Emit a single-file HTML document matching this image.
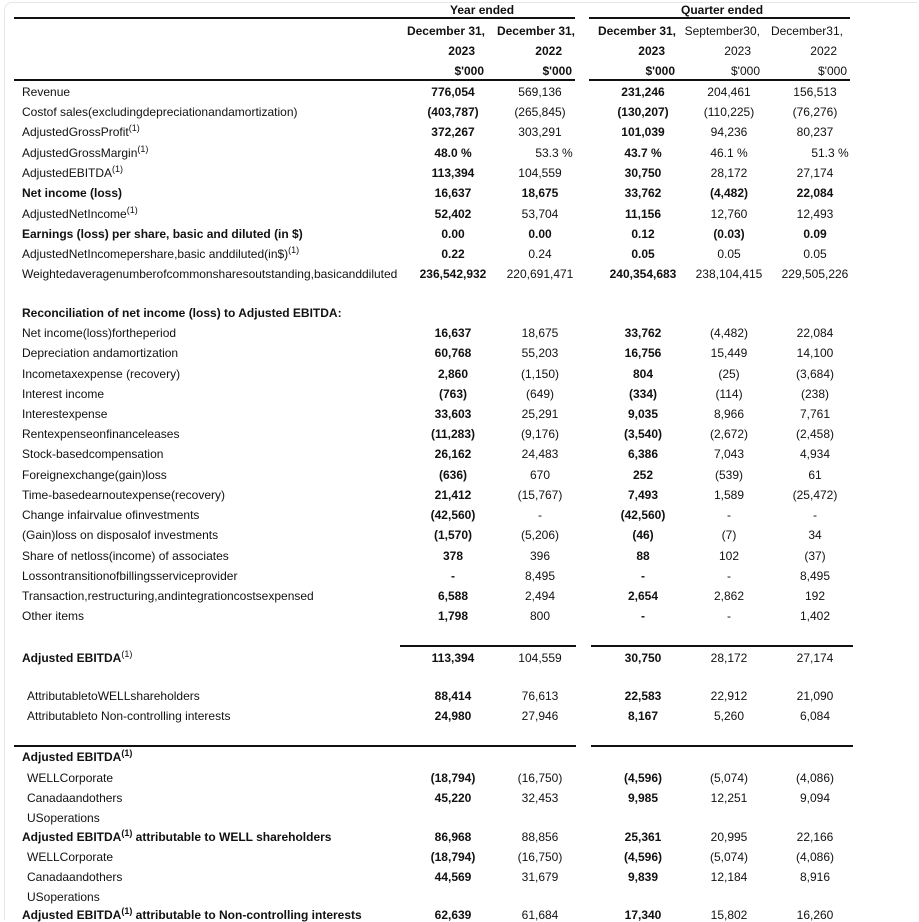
<!DOCTYPE html>
<html style="overflow:hidden;width:919px;height:922px"><head><meta charset="utf-8"><style>
body{margin:0;background:#fff;width:919px;height:922px;overflow:hidden;position:relative;font-family:"Liberation Sans",Arial,sans-serif;font-size:12px;color:#111}
.card{position:absolute;left:4px;top:2px;width:912px;height:917px;border-top:1px solid #e6e6e6;border-left:1px solid #e6e6e6;border-top-left-radius:8px}
.r{position:absolute;left:0;width:919px;height:16px;line-height:16px}
.r span{position:absolute;top:0;white-space:nowrap}
.l{left:22px}.li{left:27px}
.c1,.c2,.c3,.c4,.c5{width:100px;text-align:center}
.c1{left:403px}.c2{left:490px}.c3{left:593px}.c4{left:679px}.c5{left:765px}
.b{font-weight:bold}
sup{font-size:9px;line-height:0;vertical-align:5px}
.h{position:absolute;white-space:nowrap;line-height:16px;height:16px}
.ln{position:absolute;height:2px;background:#111}
</style></head><body>
<div class="card"></div>
<div class="h b" style="left:450px;top:2px">Year ended</div>
<div class="h b" style="left:681px;top:2px">Quarter ended</div>
<div class="ln" style="left:14px;width:561px;top:17px"></div>
<div class="ln" style="left:589px;width:261px;top:17px"></div>
<div class="h b" style="right:434px;top:23px">December 31,</div>
<div class="h b" style="right:344px;top:23px">December 31,</div>
<div class="h b" style="right:243px;top:23px">December 31,</div>
<div class="h" style="right:159px;top:23px">September30,</div>
<div class="h" style="right:76px;top:23px">December31,</div>
<div class="h b" style="right:444px;top:43px">2023</div>
<div class="h b" style="right:357px;top:43px">2022</div>
<div class="h b" style="right:254px;top:43px">2023</div>
<div class="h" style="right:168px;top:43px">2023</div>
<div class="h" style="right:82px;top:43px">2022</div>
<div class="h b" style="right:435px;top:63px">$'000</div>
<div class="h b" style="right:347px;top:63px">$'000</div>
<div class="h b" style="right:244px;top:63px">$'000</div>
<div class="h" style="right:159px;top:63px">$'000</div>
<div class="h" style="right:72px;top:63px">$'000</div>
<div class="ln" style="left:14px;width:561px;top:79px"></div>
<div class="ln" style="left:589px;width:261px;top:79px"></div>

<div class="r" style="top:84px"><span class="l">Revenue</span><span class="c1 b">776,054</span><span class="c2">569,136</span><span class="c3 b">231,246</span><span class="c4">204,461</span><span class="c5">156,513</span></div>
<div class="r" style="top:104px"><span class="l">Costof sales(excludingdepreciationandamortization)</span><span class="c1 b">(403,787)</span><span class="c2">(265,845)</span><span class="c3 b">(130,207)</span><span class="c4">(110,225)</span><span class="c5">(76,276)</span></div>
<div class="r" style="top:124px"><span class="l">AdjustedGrossProfit<sup>(1)</sup></span><span class="c1 b">372,267</span><span class="c2">303,291</span><span class="c3 b">101,039</span><span class="c4">94,236</span><span class="c5">80,237</span></div>
<div class="r" style="top:145px"><span class="l">AdjustedGrossMargin<sup>(1)</sup></span><span class="c1 b">48.0 %</span><span class="c2" style="left:504px">53.3 %</span><span class="c3 b">43.7 %</span><span class="c4">46.1 %</span><span class="c5" style="left:780px">51.3 %</span></div>
<div class="r" style="top:165px"><span class="l">AdjustedEBITDA<sup>(1)</sup></span><span class="c1 b">113,394</span><span class="c2">104,559</span><span class="c3 b">30,750</span><span class="c4">28,172</span><span class="c5">27,174</span></div>
<div class="r b" style="top:185px"><span class="l">Net income (loss)</span><span class="c1">16,637</span><span class="c2">18,675</span><span class="c3">33,762</span><span class="c4">(4,482)</span><span class="c5">22,084</span></div>
<div class="r" style="top:206px"><span class="l">AdjustedNetIncome<sup>(1)</sup></span><span class="c1 b">52,402</span><span class="c2">53,704</span><span class="c3 b">11,156</span><span class="c4">12,760</span><span class="c5">12,493</span></div>
<div class="r b" style="top:226px"><span class="l">Earnings (loss) per share, basic and diluted (in $)</span><span class="c1">0.00</span><span class="c2">0.00</span><span class="c3">0.12</span><span class="c4">(0.03)</span><span class="c5">0.09</span></div>
<div class="r" style="top:246px"><span class="l">AdjustedNetIncomepershare,basic anddiluted(in$)<sup>(1)</sup></span><span class="c1 b">0.22</span><span class="c2">0.24</span><span class="c3 b">0.05</span><span class="c4">0.05</span><span class="c5">0.05</span></div>
<div class="r" style="top:266px"><span class="l">Weightedaveragenumberofcommonsharesoutstanding,basicanddiluted</span><span class="c1 b">236,542,932</span><span class="c2">220,691,471</span><span class="c3 b">240,354,683</span><span class="c4">238,104,415</span><span class="c5">229,505,226</span></div>

<div class="r b" style="top:305px"><span class="l">Reconciliation of net income (loss) to Adjusted EBITDA:</span></div>
<div class="r" style="top:325px"><span class="l">Net income(loss)fortheperiod</span><span class="c1 b">16,637</span><span class="c2">18,675</span><span class="c3 b">33,762</span><span class="c4">(4,482)</span><span class="c5">22,084</span></div>
<div class="r" style="top:345px"><span class="l">Depreciation andamortization</span><span class="c1 b">60,768</span><span class="c2">55,203</span><span class="c3 b">16,756</span><span class="c4">15,449</span><span class="c5">14,100</span></div>
<div class="r" style="top:366px"><span class="l">Incometaxexpense (recovery)</span><span class="c1 b">2,860</span><span class="c2">(1,150)</span><span class="c3 b">804</span><span class="c4">(25)</span><span class="c5">(3,684)</span></div>
<div class="r" style="top:386px"><span class="l">Interest income</span><span class="c1 b">(763)</span><span class="c2">(649)</span><span class="c3 b">(334)</span><span class="c4">(114)</span><span class="c5">(238)</span></div>
<div class="r" style="top:406px"><span class="l">Interestexpense</span><span class="c1 b">33,603</span><span class="c2">25,291</span><span class="c3 b">9,035</span><span class="c4">8,966</span><span class="c5">7,761</span></div>
<div class="r" style="top:426px"><span class="l">Rentexpenseonfinanceleases</span><span class="c1 b">(11,283)</span><span class="c2">(9,176)</span><span class="c3 b">(3,540)</span><span class="c4">(2,672)</span><span class="c5">(2,458)</span></div>
<div class="r" style="top:446px"><span class="l">Stock-basedcompensation</span><span class="c1 b">26,162</span><span class="c2">24,483</span><span class="c3 b">6,386</span><span class="c4">7,043</span><span class="c5">4,934</span></div>
<div class="r" style="top:467px"><span class="l">Foreignexchange(gain)loss</span><span class="c1 b">(636)</span><span class="c2">670</span><span class="c3 b">252</span><span class="c4">(539)</span><span class="c5">61</span></div>
<div class="r" style="top:487px"><span class="l">Time-basedearnoutexpense(recovery)</span><span class="c1 b">21,412</span><span class="c2">(15,767)</span><span class="c3 b">7,493</span><span class="c4">1,589</span><span class="c5">(25,472)</span></div>
<div class="r" style="top:507px"><span class="l">Change infairvalue ofinvestments</span><span class="c1 b">(42,560)</span><span class="c2">-</span><span class="c3 b">(42,560)</span><span class="c4">-</span><span class="c5">-</span></div>
<div class="r" style="top:527px"><span class="l">(Gain)loss on disposalof investments</span><span class="c1 b">(1,570)</span><span class="c2">(5,206)</span><span class="c3 b">(46)</span><span class="c4">(7)</span><span class="c5">34</span></div>
<div class="r" style="top:548px"><span class="l">Share of netloss(income) of associates</span><span class="c1 b">378</span><span class="c2">396</span><span class="c3 b">88</span><span class="c4">102</span><span class="c5">(37)</span></div>
<div class="r" style="top:568px"><span class="l">Lossontransitionofbillingsserviceprovider</span><span class="c1 b">-</span><span class="c2">8,495</span><span class="c3 b">-</span><span class="c4">-</span><span class="c5">8,495</span></div>
<div class="r" style="top:588px"><span class="l">Transaction,restructuring,andintegrationcostsexpensed</span><span class="c1 b">6,588</span><span class="c2">2,494</span><span class="c3 b">2,654</span><span class="c4">2,862</span><span class="c5">192</span></div>
<div class="r" style="top:608px"><span class="l">Other items</span><span class="c1 b">1,798</span><span class="c2">800</span><span class="c3 b">-</span><span class="c4">-</span><span class="c5">1,402</span></div>

<div class="ln" style="left:400px;width:176px;top:645px"></div>
<div class="ln" style="left:591px;width:262px;top:645px"></div>
<div class="r" style="top:650px"><span class="l b">Adjusted EBITDA<sup style="font-weight:normal">(1)</sup></span><span class="c1 b">113,394</span><span class="c2">104,559</span><span class="c3 b">30,750</span><span class="c4">28,172</span><span class="c5">27,174</span></div>
<div class="r" style="top:688px"><span class="li">AttributabletoWELLshareholders</span><span class="c1 b">88,414</span><span class="c2">76,613</span><span class="c3 b">22,583</span><span class="c4">22,912</span><span class="c5">21,090</span></div>
<div class="r" style="top:708px"><span class="li">Attributableto Non-controlling interests</span><span class="c1 b">24,980</span><span class="c2">27,946</span><span class="c3 b">8,167</span><span class="c4">5,260</span><span class="c5">6,084</span></div>

<div class="ln" style="left:14px;width:562px;top:745px"></div>
<div class="ln" style="left:591px;width:262px;top:745px"></div>
<div class="r" style="top:749px"><span class="l b">Adjusted EBITDA<sup>(1)</sup></span></div>
<div class="r" style="top:770px"><span class="li">WELLCorporate</span><span class="c1 b">(18,794)</span><span class="c2">(16,750)</span><span class="c3 b">(4,596)</span><span class="c4">(5,074)</span><span class="c5">(4,086)</span></div>
<div class="r" style="top:790px"><span class="li">Canadaandothers</span><span class="c1 b">45,220</span><span class="c2">32,453</span><span class="c3 b">9,985</span><span class="c4">12,251</span><span class="c5">9,094</span></div>
<div class="r" style="top:810px"><span class="li">USoperations</span></div>
<div class="r" style="top:829px"><span class="l b">Adjusted EBITDA<sup>(1)</sup> attributable to WELL shareholders</span><span class="c1 b">86,968</span><span class="c2">88,856</span><span class="c3 b">25,361</span><span class="c4">20,995</span><span class="c5">22,166</span></div>
<div class="r" style="top:849px"><span class="li">WELLCorporate</span><span class="c1 b">(18,794)</span><span class="c2">(16,750)</span><span class="c3 b">(4,596)</span><span class="c4">(5,074)</span><span class="c5">(4,086)</span></div>
<div class="r" style="top:869px"><span class="li">Canadaandothers</span><span class="c1 b">44,569</span><span class="c2">31,679</span><span class="c3 b">9,839</span><span class="c4">12,184</span><span class="c5">8,916</span></div>
<div class="r" style="top:889px"><span class="li">USoperations</span></div>
<div class="r" style="top:907px"><span class="l b">Adjusted EBITDA<sup>(1)</sup> attributable to Non-controlling interests</span><span class="c1 b">62,639</span><span class="c2">61,684</span><span class="c3 b">17,340</span><span class="c4">15,802</span><span class="c5">16,260</span></div>
</body></html>
